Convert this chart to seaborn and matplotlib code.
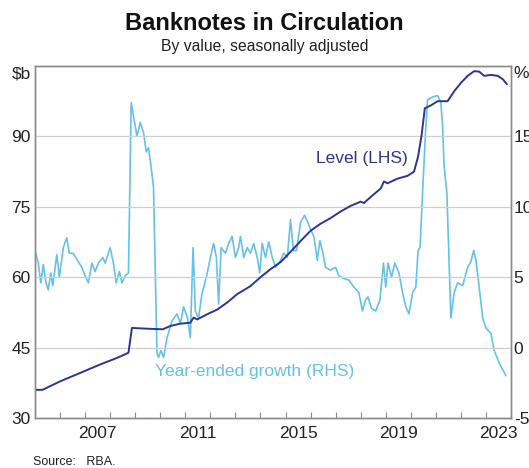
import matplotlib
matplotlib.use("Agg")
import matplotlib.pyplot as plt
import seaborn as sns
import pandas as pd

# Banknotes in circulation, level ($b, LHS)
level_year = [2005.00, 2005.30, 2006.00, 2006.80, 2007.60, 2008.27, 2008.73, 2008.87,
              2009.20, 2009.60, 2010.10, 2010.40, 2010.80, 2011.20, 2011.33, 2011.47,
              2011.87, 2012.27, 2012.67, 2013.07, 2013.60, 2014.00, 2014.40, 2014.80,
              2015.20, 2015.60, 2016.00, 2016.40, 2016.80, 2017.20, 2017.60, 2018.00,
              2018.13, 2018.40, 2018.80, 2018.93, 2019.07, 2019.47, 2019.87, 2020.13,
              2020.29, 2020.43, 2020.56, 2020.80, 2021.07, 2021.47, 2021.73, 2022.00,
              2022.27, 2022.53, 2022.73, 2022.93, 2023.20, 2023.47, 2023.67, 2023.84]
level_bn = [36.0, 36.0, 37.8, 39.6, 41.4, 42.8, 43.9, 49.2,
            49.1, 49.0, 48.9, 49.6, 50.1, 50.3, 51.4, 51.0,
            52.1, 53.1, 54.6, 56.4, 58.1, 60.0, 61.7, 63.2,
            65.4, 67.7, 69.9, 71.4, 72.6, 74.0, 75.2, 76.1,
            75.8, 77.1, 78.9, 80.4, 80.0, 81.0, 81.6, 82.5,
            85.7, 90.2, 96.0, 96.6, 97.5, 97.5, 99.6, 101.4,
            102.9, 103.9, 103.8, 102.9, 103.1, 102.9, 102.2, 101.1]

# Year-ended growth (%, RHS)
growth_year = [2005.00, 2005.13, 2005.23, 2005.33, 2005.44, 2005.53, 2005.63, 2005.71,
               2005.87, 2005.97, 2006.13, 2006.27, 2006.37, 2006.53, 2006.73, 2006.87,
               2007.00, 2007.13, 2007.27, 2007.40, 2007.53, 2007.71, 2007.80, 2008.00,
               2008.13, 2008.24, 2008.37, 2008.47, 2008.60, 2008.73, 2008.84, 2009.07,
               2009.20, 2009.33, 2009.44, 2009.53, 2009.63, 2009.73, 2009.87, 2009.93,
               2010.03, 2010.13, 2010.27, 2010.47, 2010.67, 2010.80, 2010.93, 2011.09,
               2011.20, 2011.31, 2011.40, 2011.53, 2011.67, 2011.84, 2012.00, 2012.13,
               2012.24, 2012.33, 2012.43, 2012.60, 2012.73, 2012.87, 2013.00, 2013.13,
               2013.20, 2013.33, 2013.47, 2013.60, 2013.73, 2013.87, 2013.97, 2014.07,
               2014.20, 2014.33, 2014.47, 2014.60, 2014.80, 2014.93, 2015.07, 2015.20,
               2015.31, 2015.44, 2015.60, 2015.76, 2015.89, 2016.00, 2016.13, 2016.27,
               2016.37, 2016.47, 2016.60, 2016.80, 2017.00, 2017.13, 2017.33, 2017.53,
               2017.73, 2017.93, 2018.07, 2018.20, 2018.29, 2018.43, 2018.60, 2018.77,
               2018.91, 2019.00, 2019.09, 2019.23, 2019.36, 2019.53, 2019.67, 2019.80,
               2019.93, 2020.07, 2020.20, 2020.29, 2020.37, 2020.47, 2020.60, 2020.67,
               2020.87, 2021.07, 2021.20, 2021.27, 2021.33, 2021.44, 2021.60, 2021.73,
               2021.87, 2022.07, 2022.27, 2022.40, 2022.51, 2022.60, 2022.73, 2022.87,
               2023.00, 2023.20, 2023.33, 2023.53, 2023.80]
growth_pct = [6.9, 6.0, 4.6, 5.9, 4.6, 4.1, 5.3, 4.4,
              6.6, 5.0, 7.1, 7.8, 6.7, 6.7, 6.1, 5.7,
              5.1, 4.6, 6.0, 5.4, 6.0, 6.4, 6.0, 7.1,
              6.0, 4.6, 5.4, 4.6, 5.1, 5.3, 17.4, 15.0,
              16.0, 15.3, 13.9, 14.2, 12.9, 11.4, -0.4, -0.7,
              -0.2, -0.7, 0.7, 1.9, 2.4, 1.7, 2.9, 2.1,
              0.7, 7.1, 2.6, 2.1, 3.9, 5.0, 6.4, 7.4,
              6.4, 3.1, 7.1, 6.7, 7.4, 7.9, 6.4, 7.1,
              7.9, 6.4, 7.1, 6.7, 7.4, 6.4, 5.3, 7.4,
              6.4, 7.5, 6.4, 5.7, 6.2, 6.7, 6.4, 9.1,
              6.9, 6.9, 8.9, 9.4, 8.9, 8.4, 7.9, 6.2,
              7.6, 6.9, 5.7, 5.5, 5.7, 5.1, 4.9, 4.8,
              4.3, 3.9, 2.6, 3.4, 3.6, 2.8, 2.6, 3.4,
              6.0, 4.3, 6.0, 5.0, 6.0, 5.3, 3.9, 2.9,
              2.4, 3.9, 4.3, 6.9, 7.1, 11.0, 15.7, 17.6,
              17.8, 17.9, 17.4, 15.7, 12.9, 11.0, 2.1, 3.9,
              4.6, 4.4, 5.7, 6.1, 6.9, 6.2, 4.3, 2.1,
              1.4, 1.0, -0.2, -1.1, -2.0]

year_labels = ["2007", "2011", "2015", "2019", "2023"]
left_ticks = [30, 45, 60, 75, 90, 105]
right_ticks = [-5, 0, 5, 10, 15, 20]

level_df = pd.DataFrame({"year": level_year, "level": level_bn})
growth_df = pd.DataFrame({"year": growth_year, "growth": growth_pct})

sns.set_theme(style="white")
plt.rcParams["font.family"] = ["Liberation Sans", "DejaVu Sans"]
plt.rcParams["axes.unicode_minus"] = False

navy = "#2e3592"
light = "#66c1e8"
spine_col = "#8a8a8a"
txt = "#222222"

fig = plt.figure(figsize=(5.29, 4.68), dpi=100)
ax = fig.add_axes([35 / 529, 50 / 468, 476 / 529, 352 / 468])
ax2 = ax.twinx()

sns.lineplot(data=growth_df, x="year", y="growth", ax=ax2, color=light, lw=1.2)
sns.lineplot(data=level_df, x="year", y="level", ax=ax, color=navy, lw=1.4)
# level line drawn above the growth line
ax.set_zorder(ax2.get_zorder() + 1)
ax.patch.set_visible(False)

ax.set_xlim(2005, 2024)
ax.set_ylim(30, 105)
ax2.set_ylim(-5, 20)

ax.set_xticks(range(2006, 2024))
ax.set_xticklabels([])
ax.set_xticks([int(y) + 0.5 for y in year_labels], minor=True)
ax.set_xticklabels(year_labels, minor=True)
ax.tick_params(axis="x", which="major", direction="in", length=4, width=0.8,
               color=spine_col, bottom=True)
ax.tick_params(axis="x", which="minor", length=0, pad=6, labelsize=12.5, labelcolor=txt)

ax.set_yticks(left_ticks)
ax.set_yticklabels(["30", "45", "60", "75", "90", "$b"])
ax.tick_params(axis="y", length=0, pad=3, labelsize=12.5, labelcolor=txt)
ax2.set_yticks(right_ticks)
ax2.set_yticklabels(["-5", "0", "5", "10", "15", "%"])
ax2.tick_params(axis="y", length=0, pad=2, labelsize=12.5, labelcolor=txt)
# unit labels sit just below the top of the frame
ax.get_yticklabels()[-1].set_va("top")
ax2.get_yticklabels()[-1].set_va("top")

for y in left_ticks[1:-1]:
    ax.axhline(y, color="#cfcfcf", lw=0.9, zorder=0)
ax.set_xlabel("")
ax.set_ylabel("")
ax2.set_ylabel("")

for a in (ax, ax2):
    for s in a.spines.values():
        s.set_visible(True)
        s.set_color(spine_col)
        s.set_linewidth(1.0)

ax.text(2018.05, 85.3, "Level (LHS)", color=navy, fontsize=12.5, ha="center", va="center")
ax.text(2013.75, 39.9, "Year-ended growth (RHS)", color=light, fontsize=12.5,
        ha="center", va="center")

fig.text(0.5, 1 - 24 / 468, "Banknotes in Circulation", ha="center", va="center",
         fontsize=17, fontweight="bold", color="#111111")
fig.text(0.5, 1 - 46 / 468, "By value, seasonally adjusted", ha="center", va="center",
         fontsize=11.3, color=txt)
fig.text(33 / 529, 1 - 462 / 468, "Source:   RBA.", ha="left", va="center",
         fontsize=9, color=txt)

fig.savefig("out.png", dpi=100)
